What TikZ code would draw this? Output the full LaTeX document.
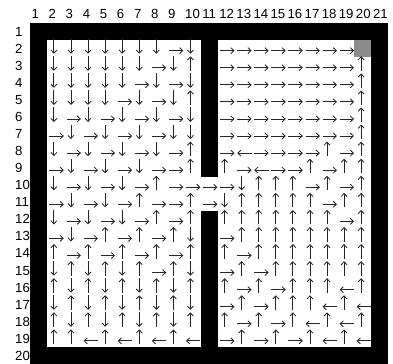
\documentclass[tikz,border=0pt]{standalone}
\usepackage{fontspec}
\setmainfont{Liberation Sans}
\usepackage{tikz}
\usetikzlibrary{arrows.meta}
% one arrow per cell: column #1, row #2
\newcommand{\mvr}[2]{\draw[mv] (#1-0.36,-#2-0.12) -- (#1+0.48,-#2-0.12);}
\newcommand{\mvl}[2]{\draw[mv] (#1+0.48,-#2-0.12) -- (#1-0.36,-#2-0.12);}
\newcommand{\mvu}[2]{\draw[mv] (#1-0.1,-#2-0.3) -- (#1-0.1,-#2+0.55);}
\newcommand{\mvd}[2]{\draw[mv] (#1-0.1,-#2+0.55) -- (#1-0.1,-#2-0.3);}
\newcommand{\mvw}[2]{}
\newcommand{\mvg}[2]{}
\newcommand{\mv}[3]{\csname mv#1\endcsname{#2}{#3}}
\tikzset{
  >={Straight Barb[length=2.6pt,width=5pt]},
}

\begin{document}
\begin{tikzpicture}[
  x=0.5cm,y=0.5cm,
  mv/.style={->,line width=0.7pt,draw=black!85},
  wall/.style={fill=black},
  goal/.style={fill=black!45},
  num/.style={anchor=west,inner sep=0pt,font=\fontsize{11}{13}\selectfont}
]
\useasboundingbox (-1.257,0.847) rectangle (21.765,-20.476);

% walls
\fill[wall] (0.5,-0.5) rectangle (21.5,-1.5);
\fill[wall] (0.5,-19.5) rectangle (21.5,-20.5);
\fill[wall] (0.5,-0.5) rectangle (1.5,-20.5);
\fill[wall] (20.5,-0.5) rectangle (21.5,-20.5);
\fill[wall] (10.5,-0.5) rectangle (11.5,-9.5);
\fill[wall] (10.5,-11.5) rectangle (11.5,-20.5);
\fill[goal] (19.5,-1.5) rectangle (20.5,-2.5);

% column and row numbers
\foreach \c in {1,...,21}
  \node[num] (col\c) at (\c-0.42,0.03) {\c};
\foreach \r in {1,...,20}
  \node[num] (row\r) at (-0.38,-\r) {\r};

% policy, columns 2 to 20
\foreach \k [count=\c from 2] in {d,d,d,d,d,d,d,r,d,w,r,r,r,r,r,r,r,r,g} {\mv{\k}{\c}{2}}
\foreach \k [count=\c from 2] in {d,d,d,d,d,d,r,d,u,w,r,r,r,r,r,r,r,r,u} {\mv{\k}{\c}{3}}
\foreach \k [count=\c from 2] in {d,d,d,d,d,r,d,r,d,w,r,r,r,r,r,r,r,r,u} {\mv{\k}{\c}{4}}
\foreach \k [count=\c from 2] in {d,d,d,d,r,d,r,d,u,w,r,r,r,r,r,r,r,r,u} {\mv{\k}{\c}{5}}
\foreach \k [count=\c from 2] in {d,r,d,r,d,r,d,r,d,w,r,r,r,r,r,r,r,r,u} {\mv{\k}{\c}{6}}
\foreach \k [count=\c from 2] in {r,d,r,d,r,d,r,d,d,w,r,r,r,r,r,r,r,r,u} {\mv{\k}{\c}{7}}
\foreach \k [count=\c from 2] in {d,r,d,r,d,r,d,r,u,w,r,l,r,r,r,r,u,r,u} {\mv{\k}{\c}{8}}
\foreach \k [count=\c from 2] in {r,d,r,d,r,d,r,r,u,w,u,r,l,r,r,u,r,u,u} {\mv{\k}{\c}{9}}
\foreach \k [count=\c from 2] in {d,r,d,r,d,r,u,r,r,r,r,d,u,u,u,r,u,r,u} {\mv{\k}{\c}{10}}
\foreach \k [count=\c from 2] in {r,d,r,d,r,u,r,r,u,r,d,u,u,u,u,u,r,u,u} {\mv{\k}{\c}{11}}
\foreach \k [count=\c from 2] in {d,r,d,r,d,r,u,r,u,w,u,u,u,u,u,u,u,r,u} {\mv{\k}{\c}{12}}
\foreach \k [count=\c from 2] in {r,d,r,u,r,u,r,u,d,w,r,u,u,u,u,u,u,u,u} {\mv{\k}{\c}{13}}
\foreach \k [count=\c from 2] in {u,r,u,r,u,r,u,r,u,w,u,r,u,u,u,u,u,u,u} {\mv{\k}{\c}{14}}
\foreach \k [count=\c from 2] in {d,u,d,u,d,u,r,u,d,w,r,u,r,u,u,u,u,u,u} {\mv{\k}{\c}{15}}
\foreach \k [count=\c from 2] in {u,d,u,d,u,d,u,d,u,w,u,r,u,r,u,u,u,l,u} {\mv{\k}{\c}{16}}
\foreach \k [count=\c from 2] in {d,u,d,u,d,u,d,u,d,w,r,u,r,u,u,u,l,u,l} {\mv{\k}{\c}{17}}
\foreach \k [count=\c from 2] in {u,d,u,d,u,d,u,d,u,w,u,r,u,r,u,l,u,l,u} {\mv{\k}{\c}{18}}
\foreach \k [count=\c from 2] in {u,u,l,u,l,u,l,u,l,w,r,u,r,u,r,u,l,u,l} {\mv{\k}{\c}{19}}

\end{tikzpicture}
\end{document}
